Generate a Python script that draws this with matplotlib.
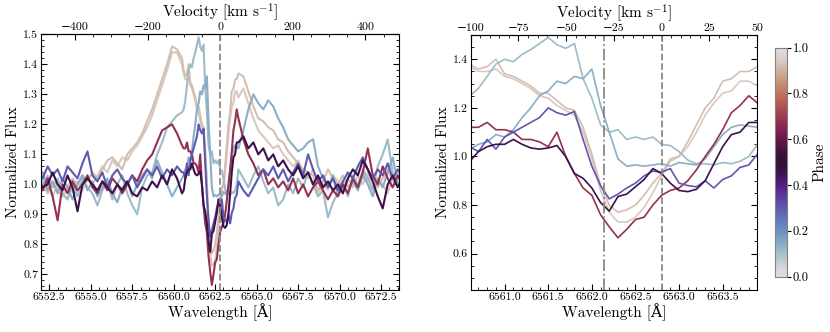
import numpy as np
import matplotlib
matplotlib.use('Agg')
import matplotlib.pyplot as plt
from matplotlib.ticker import MultipleLocator, FixedLocator
from matplotlib.cm import ScalarMappable
from matplotlib.colors import Normalize

plt.rcParams['font.family'] = ['cmr10', 'DejaVu Serif']
plt.rcParams['mathtext.fontset'] = 'cm'
plt.rcParams['axes.formatter.use_mathtext'] = False
plt.rcParams['axes.unicode_minus'] = True
plt.rcParams['xtick.direction'] = 'in'
plt.rcParams['ytick.direction'] = 'in'

C_KMS = 299792.458
LAM0 = 6562.8

# wavelength grid: blue wing, line core, red wing
wave_blue = [6551.8, 6552.1, 6552.4, 6552.7, 6553.0, 6553.3, 6553.6, 6553.9, 6554.2, 6554.5,
             6554.8, 6555.1, 6555.4, 6555.7, 6556.0, 6556.3, 6556.6, 6556.9, 6557.2, 6557.5,
             6557.8, 6558.1, 6558.4, 6558.7, 6559.0, 6559.3, 6559.6, 6559.9, 6560.2, 6560.5]
wave_core = [6560.6, 6560.7, 6560.8, 6560.9, 6561.0, 6561.1, 6561.2, 6561.3, 6561.4, 6561.5,
             6561.6, 6561.7, 6561.8, 6561.9, 6562.0, 6562.1, 6562.2, 6562.3, 6562.4, 6562.5,
             6562.6, 6562.7, 6562.8, 6562.9, 6563.0, 6563.1, 6563.2, 6563.3, 6563.4, 6563.5,
             6563.6, 6563.7, 6563.8, 6563.9]
wave_red = [6564.2, 6564.5, 6564.8, 6565.1, 6565.4, 6565.7, 6566.0, 6566.3, 6566.6, 6566.9,
            6567.2, 6567.5, 6567.8, 6568.1, 6568.4, 6568.7, 6569.0, 6569.3, 6569.6, 6569.9,
            6570.2, 6570.5, 6570.8, 6571.1, 6571.4, 6571.7, 6572.0, 6572.3, 6572.6, 6572.9,
            6573.2, 6573.5, 6573.8]
wave = wave_blue + wave_core + wave_red

phases = [0.94, 0.92, 0.11, 0.14, 0.68, 0.30, 0.46]

vel_ticks_left = [-400, -200, 0, 200, 400]
vel_ticks_right = [-100, -75, -50, -25, 0, 25, 50]

flux_a = [1.00, 1.03, 0.99, 0.96, 1.00, 0.97, 0.95, 0.99, 1.01, 0.98,
          1.02, 1.00, 1.03, 1.06, 1.04, 1.08, 1.06, 1.09, 1.08, 1.11,
          1.13, 1.16, 1.19, 1.23, 1.28, 1.33, 1.38, 1.44, 1.44, 1.40,
          1.37, 1.35, 1.35, 1.36, 1.33, 1.32, 1.30, 1.28, 1.25, 1.24,
          1.21, 1.19, 1.17, 1.10, 0.99, 0.86, 0.77, 0.73, 0.73, 0.75,
          0.79, 0.85, 0.92, 0.98, 1.00, 1.04, 1.10, 1.17, 1.22, 1.26,
          1.27, 1.31, 1.31, 1.29,
          1.32, 1.27, 1.22, 1.18, 1.16, 1.14, 1.12, 1.13, 1.10, 1.08,
          1.06, 1.08, 1.04, 1.02, 1.05, 0.97, 1.00, 0.98, 1.03, 1.01,
          0.98, 1.02, 0.99, 1.03, 1.00, 1.04, 0.98, 1.02, 1.00, 0.97,
          1.02, 1.04, 0.99]

flux_b = [1.02, 1.00, 0.97, 1.01, 0.98, 0.96, 0.99, 1.02, 1.00, 1.03,
          1.01, 1.04, 1.02, 1.05, 1.08, 1.09, 1.07, 1.05, 1.10, 1.12,
          1.14, 1.17, 1.21, 1.25, 1.30, 1.35, 1.40, 1.46, 1.45, 1.42,
          1.38, 1.36, 1.37, 1.40, 1.34, 1.33, 1.31, 1.29, 1.26, 1.26,
          1.23, 1.20, 1.19, 1.12, 1.01, 0.88, 0.80, 0.77, 0.78, 0.80,
          0.84, 0.89, 0.93, 0.99, 1.00, 1.06, 1.13, 1.20, 1.24, 1.31,
          1.32, 1.35, 1.35, 1.37,
          1.36, 1.31, 1.26, 1.22, 1.21, 1.19, 1.18, 1.15, 1.14, 1.11,
          1.09, 1.07, 1.05, 1.04, 1.03, 0.98, 1.01, 1.05, 1.02, 1.00,
          1.03, 0.99, 1.02, 1.00, 1.04, 1.01, 1.03, 0.99, 1.02, 1.05,
          1.01, 1.03, 1.00]

flux_c = [1.07, 1.00, 1.03, 0.99, 1.02, 0.97, 0.95, 1.00, 0.96, 1.02,
          0.99, 0.97, 0.93, 0.98, 1.01, 0.95, 1.00, 1.03, 0.97, 0.93,
          0.90, 0.99, 1.03, 1.04, 1.10, 1.14, 1.19, 1.21, 1.23, 1.24,
          1.25, 1.28, 1.33, 1.38, 1.40, 1.39, 1.42, 1.44, 1.465, 1.49,
          1.46, 1.445, 1.465, 1.32, 1.24, 1.13, 1.10, 1.11, 1.07, 1.08,
          1.07, 1.08, 1.05, 1.045, 1.02, 0.985, 0.97, 0.97, 0.965, 0.975,
          0.97, 0.98, 1.00, 1.05,
          1.02, 0.99, 1.03, 1.06, 1.01, 0.97, 0.99, 0.93, 0.95, 1.00,
          0.97, 1.02, 0.99, 1.04, 1.00, 0.96, 0.98, 0.89, 0.94, 0.97,
          1.01, 0.96, 1.03, 0.99, 1.05, 1.02, 0.98, 1.06, 1.10, 1.15,
          1.04, 1.00, 1.02]

flux_d = [1.00, 1.04, 0.98, 1.01, 0.97, 1.02, 0.99, 0.95, 1.00, 1.03,
          0.98, 1.01, 0.96, 0.99, 1.02, 0.97, 0.94, 0.99, 1.01, 0.96,
          1.00, 1.03, 1.05, 1.02, 1.08, 1.04, 1.00, 0.96, 0.99, 1.02,
          1.03, 1.05, 1.06, 1.09, 1.08, 1.11, 1.16, 1.20, 1.25, 1.27,
          1.31, 1.30, 1.33, 1.32, 1.36, 1.21, 1.10, 0.99, 0.96, 0.965,
          0.96, 0.965, 0.97, 0.96, 0.975, 0.97, 0.965, 0.99, 1.04, 1.09,
          1.12, 1.13, 1.125, 1.12,
          1.18, 1.25, 1.30, 1.27, 1.25, 1.28, 1.26, 1.22, 1.19, 1.15,
          1.13, 1.11, 1.12, 1.14, 1.15, 1.06, 1.02, 0.99, 1.03, 0.96,
          1.00, 0.97, 1.01, 0.98, 1.03, 1.00, 0.96, 1.02, 0.99, 1.04,
          1.09, 1.01, 0.98]

flux_e = [1.00, 0.98, 1.02, 0.96, 0.88, 1.00, 0.97, 1.01, 0.98, 1.00,
          1.03, 0.99, 0.97, 1.01, 0.98, 1.02, 1.00, 0.97, 1.00, 1.03,
          1.01, 1.05, 1.08, 1.10, 1.14, 1.18, 1.19, 1.20, 1.17, 1.13,
          1.12, 1.12, 1.14, 1.11, 1.11, 1.10, 1.07, 1.07, 1.06, 1.04,
          1.10, 1.00, 0.93, 0.87, 0.84, 0.76, 0.71, 0.665, 0.70, 0.74,
          0.75, 0.80, 0.84, 0.86, 0.87, 0.90, 0.945, 1.00, 1.05, 1.11,
          1.18, 1.21, 1.25, 1.22,
          1.15, 1.10, 1.07, 1.03, 1.05, 1.00, 1.02, 0.99, 1.01, 0.98,
          1.02, 0.97, 1.00, 0.96, 0.99, 1.01, 0.98, 0.95, 0.98, 0.96,
          1.00, 0.97, 1.02, 0.99, 1.04, 1.12, 1.03, 1.00, 1.06, 1.02,
          0.99, 1.03, 1.00]

flux_f = [1.04, 1.02, 1.06, 1.03, 1.05, 1.01, 1.06, 1.04, 1.02, 1.07,
          1.11, 1.03, 1.01, 1.04, 0.99, 1.03, 1.05, 1.02, 1.00, 1.03,
          0.99, 1.02, 1.05, 1.03, 1.06, 1.02, 1.05, 1.03, 1.06, 1.04,
          1.04, 1.02, 1.07, 1.03, 1.08, 1.10, 1.12, 1.14, 1.16, 1.20,
          1.18, 1.17, 1.185, 1.07, 0.96, 0.88, 0.825, 0.845, 0.87, 0.89,
          0.92, 0.94, 0.935, 0.95, 0.89, 0.88, 0.875, 0.90, 0.87, 0.905,
          0.92, 0.955, 0.965, 1.01,
          0.98, 0.96, 0.99, 1.02, 1.05, 1.03, 1.06, 1.02, 1.05, 1.01,
          1.04, 1.07, 1.03, 1.10, 1.05, 1.01, 1.03, 0.99, 1.02, 0.98,
          1.01, 1.04, 1.02, 1.06, 1.09, 1.05, 1.02, 1.05, 1.03, 1.07,
          1.02, 1.05, 1.03]

flux_g = [1.02, 0.99, 1.00, 1.04, 1.00, 0.98, 1.03, 0.99, 0.91, 1.00,
          1.02, 1.00, 0.98, 1.01, 0.99, 0.97, 1.00, 0.98, 1.01, 0.97,
          0.96, 0.99, 0.98, 1.01, 0.99, 1.03, 1.00, 1.05, 1.02, 0.97,
          0.98, 1.02, 1.04, 1.05, 1.05, 1.07, 1.05, 1.035, 1.03, 1.035,
          1.045, 1.00, 0.93, 0.91, 0.87, 0.81, 0.775, 0.835, 0.845, 0.875,
          0.905, 0.95, 0.93, 0.89, 0.86, 0.855, 0.865, 0.90, 0.97, 1.04,
          1.09, 1.10, 1.14, 1.14,
          1.16, 1.12, 1.14, 1.10, 1.12, 1.08, 1.10, 1.06, 1.08, 1.05,
          1.03, 1.06, 1.02, 1.04, 1.00, 1.03, 0.99, 1.01, 0.98, 1.00,
          0.97, 1.02, 1.05, 1.03, 1.08, 1.05, 1.01, 0.96, 0.92, 1.00,
          1.03, 0.99, 1.02]

spectra = [flux_a, flux_b, flux_c, flux_d, flux_e, flux_f, flux_g]
for s in spectra:
    assert len(s) == len(wave), len(s)


def to_vel(w):
    return (np.asarray(w) - LAM0) / LAM0 * C_KMS


def to_wave(v):
    return LAM0 * (1 + np.asarray(v) / C_KMS)


fig = plt.figure(figsize=(8.3, 3.32), dpi=100)
ax1 = fig.add_axes([0.0494, 0.1265, 0.4317, 0.770])
ax2 = fig.add_axes([0.5671, 0.1265, 0.345, 0.768])
cax = fig.add_axes([0.934, 0.1666, 0.0145, 0.69])

cmap = plt.get_cmap('twilight')

for ax, lw in ((ax1, 1.5), (ax2, 1.2)):
    for ph, fl in zip(phases, spectra):
        ax.plot(wave, fl, color=cmap(ph), lw=lw)
    ax.axvline(LAM0, color='#888888', ls='--', lw=1.3)
    ax.ticklabel_format(axis='x', useOffset=False)
    ax.tick_params(which='both', top=False, right=True, labelsize=8.5, pad=2)
    ax.tick_params(which='major', length=4)
    ax.tick_params(which='minor', length=2)
    ax.set_xlabel('Wavelength [Å]', fontsize=11, labelpad=1)
    ax.set_ylabel('Normalized Flux', fontsize=11, labelpad=2)

ax2.axvline(to_wave(-30), color='#888888', ls='-.', lw=1.3)

ax1.set_xlim(6552.0, 6573.6)
ax1.set_ylim(0.648, 1.5)
ax1.xaxis.set_major_locator(MultipleLocator(2.5))
ax1.xaxis.set_minor_locator(MultipleLocator(0.5))
ax1.yaxis.set_major_locator(MultipleLocator(0.1))
ax1.yaxis.set_minor_locator(MultipleLocator(0.02))

ax2.set_xlim(to_wave(-100), to_wave(50))
ax2.set_ylim(0.45, 1.5)
ax2.xaxis.set_major_locator(MultipleLocator(0.5))
ax2.xaxis.set_minor_locator(MultipleLocator(0.1))
ax2.yaxis.set_major_locator(MultipleLocator(0.2))
ax2.yaxis.set_minor_locator(MultipleLocator(0.05))

for ax, ticks, minor in ((ax1, vel_ticks_left, 50), (ax2, vel_ticks_right, 5)):
    sec = ax.secondary_xaxis('top', functions=(to_vel, to_wave))
    vmin, vmax = to_vel(ax.get_xlim())
    minor_ticks = [m for m in np.arange(-600, 601, minor) if vmin <= m <= vmax]
    sec.xaxis.set_major_locator(FixedLocator(ticks))
    sec.xaxis.set_minor_locator(FixedLocator(minor_ticks))
    sec.tick_params(which='both', direction='in', labelsize=8.5, pad=1.5)
    sec.tick_params(which='major', length=4)
    sec.tick_params(which='minor', length=2)
    sec.set_xlabel(r'Velocity [km s$^{-1}$]', fontsize=11, labelpad=4)

sm = ScalarMappable(norm=Normalize(0, 1), cmap=cmap)
cb = fig.colorbar(sm, cax=cax)
cb.set_ticks([0.0, 0.2, 0.4, 0.6, 0.8, 1.0])
cb.ax.tick_params(labelsize=9, length=3, direction='out', pad=1)
cb.outline.set_edgecolor('gray')
cb.set_label('Phase', fontsize=11, labelpad=3)

fig.savefig('out.png', dpi=100)
